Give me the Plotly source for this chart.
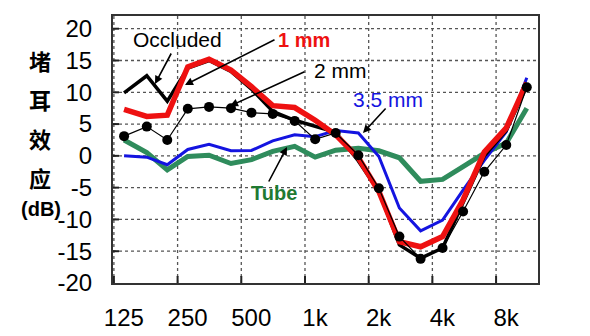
import math
import plotly.graph_objects as go

# ---- data ----
freqs = [125, 160, 200, 250, 315, 400, 500, 630, 800, 1000, 1250, 1600,
         2000, 2500, 3150, 4000, 5000, 6300, 8000, 10000]
occluded = [9.9, 12.6, 8.6, 13.8, 15.0, 13.3, 10.5, 7.0, 5.6, 4.7, 3.7, -0.8,
            -5.6, -14.0, -16.1, -14.5, -7.5, 0.0, 4.0, 11.0]
vent_1mm = [7.3, 6.2, 6.4, 14.0, 15.2, 13.5, 10.9, 7.9, 7.6, 5.6, 3.3, -0.3,
            -5.6, -13.5, -14.3, -12.7, -6.9, 0.6, 4.4, 11.5]
vent_2mm = [3.1, 4.6, 2.5, 7.4, 7.7, 7.5, 6.8, 6.6, 5.5, 2.6, 3.6, 0.1,
            -5.1, -12.7, -16.2, -14.5, -8.75, -2.5, 1.7, 10.8]
vent_35mm = [0.0, -0.2, -1.4, 1.0, 1.8, 0.8, 0.85, 2.35, 3.3, 3.0, 4.0, 3.6,
             -0.1, -8.2, -11.8, -10.1, -5.4, -0.7, 3.8, 12.3]
tube = [2.5, 0.5, -2.2, -0.1, 0.1, -1.2, -0.6, 0.7, 1.5, -0.2, 0.9, 1.2,
        0.8, -0.3, -4.0, -3.7, -1.7, 0.4, 2.0, 7.5]

x_tick_freqs = [125, 250, 500, 1000, 2000, 4000, 8000]
x_tick_text = ["125", "250", "500", "1k", "2k", "4k", "8k"]
y_tick_vals = [-20, -15, -10, -5, 0, 5, 10, 15, 20]
y_tick_text = ["-20", "-15", "-10", "-5", "0", "5", "10", "15", "20"]

RED = "#ee1111"
BLUE = "#1414e0"
GREEN = "#2f8c5c"
TEXT_GREEN = "#1f7a32"

# ---- layout geometry ----
W, H = 590, 336
ML, MR, MT, MB = 113, 52, 16, 53
PW, PH = W - ML - MR, H - MT - MB
x_min, x_max = 110.8, 11298
y_min, y_max = -20, 22
grid_shift = 0.895  # the reference's grid sits a little left of its labels


def P(xp, yp):
    return (xp - ML) / PW, (H - MB - yp) / PH


def x_at_px(px):      # px measured from the left edge of the plot area
    return x_min * (x_max / x_min) ** (px / PW)


def y_at_px(px):      # px measured from the bottom edge of the plot area
    return y_min + (y_max - y_min) * px / PH


fig = go.Figure()

# grid lines as a plain line trace
lx, ly = [], []
for v in y_tick_vals:
    if y_min < v < y_max:
        lx += [x_min, x_max, None]
        ly += [v, v, None]
for f in x_tick_freqs:
    xv = f * grid_shift
    if x_min < xv < x_max:
        lx += [xv, xv, None]
        ly += [y_min, y_max, None]
fig.add_trace(go.Scatter(x=lx, y=ly, mode="lines", hoverinfo="skip",
                         line=dict(color="#555555", width=1.3, dash="dot"),
                         name="grid"))

# inside tick marks (bottom and left)
tx, ty = [], []
for f in x_tick_freqs:
    xv = f * grid_shift
    if x_min < xv < x_max:
        tx += [xv, xv, None]
        ty += [y_min, y_at_px(7), None]
for v in y_tick_vals:
    if y_min < v < y_max:
        tx += [x_min, x_at_px(6), None]
        ty += [v, v, None]
fig.add_trace(go.Scatter(x=tx, y=ty, mode="lines", hoverinfo="skip",
                         line=dict(color="#222", width=2), name="ticks"))

fig.add_trace(go.Scatter(x=freqs, y=tube, mode="lines",
                         line=dict(color=GREEN, width=5), name="Tube"))
fig.add_trace(go.Scatter(x=freqs, y=vent_35mm, mode="lines",
                         line=dict(color=BLUE, width=3), name="3.5 mm"))
fig.add_trace(go.Scatter(x=freqs, y=occluded, mode="lines",
                         line=dict(color="black", width=3.5), name="Occluded"))
fig.add_trace(go.Scatter(x=freqs, y=vent_1mm, mode="lines",
                         line=dict(color=RED, width=5.5), name="1 mm"))
fig.add_trace(go.Scatter(x=freqs, y=vent_2mm, mode="lines+markers",
                         line=dict(color="black", width=1.2),
                         marker=dict(color="black", size=10), name="2 mm"))

annotations = []


def label(text, xp, yp, color, size, bold=False, family="Liberation Sans, Arial"):
    x, y = P(xp, yp)
    annotations.append(dict(
        x=x, y=y, xref="paper", yref="paper", text=(f"<b>{text}</b>" if bold else text),
        showarrow=False, xanchor="center", yanchor="middle",
        font=dict(family=family, size=size, color=color)))


def arrow(tail, tip):
    x, y = P(*tip)
    annotations.append(dict(
        x=x, y=y, xref="paper", yref="paper", text="",
        showarrow=True, ax=tail[0] - tip[0], ay=tail[1] - tip[1],
        axref="pixel", ayref="pixel",
        arrowhead=2, arrowsize=1, arrowwidth=1.6, arrowcolor="black",
        standoff=0, startstandoff=0))


label("Occluded", 177.5, 39.5, "black", 21)
label("1 mm", 304, 40, RED, 20, bold=True)
label("2 mm", 340, 71, "black", 21)
label("3.5 mm", 388, 99, BLUE, 21)
label("Tube", 274, 193, TEXT_GREEN, 20, bold=True)

arrow((172, 52), (155, 84))
arrow((276, 39), (185, 85))
arrow((306, 71), (230, 106))
arrow((387, 107), (363, 133))
arrow((268, 183), (287, 147))

cjk = "Noto Sans CJK SC"
label("堵", 40, 60, "black", 22, bold=True, family=cjk)
label("耳", 40, 99, "black", 22, bold=True, family=cjk)
label("效", 40, 138, "black", 22, bold=True, family=cjk)
label("应", 40, 177, "black", 22, bold=True, family=cjk)
label("(dB)", 41, 209, "black", 20, bold=True, family="Liberation Sans, Arial")
label("频率(Hz)", 323, 345, "black", 22, bold=True, family=cjk)

fig.update_layout(
    width=W, height=H,
    margin=dict(l=ML, r=MR, t=MT, b=MB, pad=0, autoexpand=False),
    paper_bgcolor="white", plot_bgcolor="white",
    showlegend=False,
    annotations=annotations,
    xaxis=dict(
        type="log", automargin=False,
        range=[math.log10(x_min), math.log10(x_max)],
        tickvals=[f * grid_shift for f in x_tick_freqs],
        ticktext=x_tick_text,
        ticklabelshift=10, ticklabelstandoff=12,
        ticks="", showgrid=False,
        showline=True, linecolor="#333", linewidth=2, mirror=True,
        zeroline=False,
        tickfont=dict(family="Liberation Sans, Arial", size=24, color="black"),
    ),
    yaxis=dict(
        range=[y_min, y_max], automargin=False,
        tickvals=y_tick_vals, ticktext=y_tick_text,
        ticks="", ticklabelstandoff=14, showgrid=False,
        showline=True, linecolor="#333", linewidth=2, mirror=True,
        zeroline=False,
        tickfont=dict(family="Liberation Sans, Arial", size=24, color="black"),
    ),
)

fig.write_html("out.html")
